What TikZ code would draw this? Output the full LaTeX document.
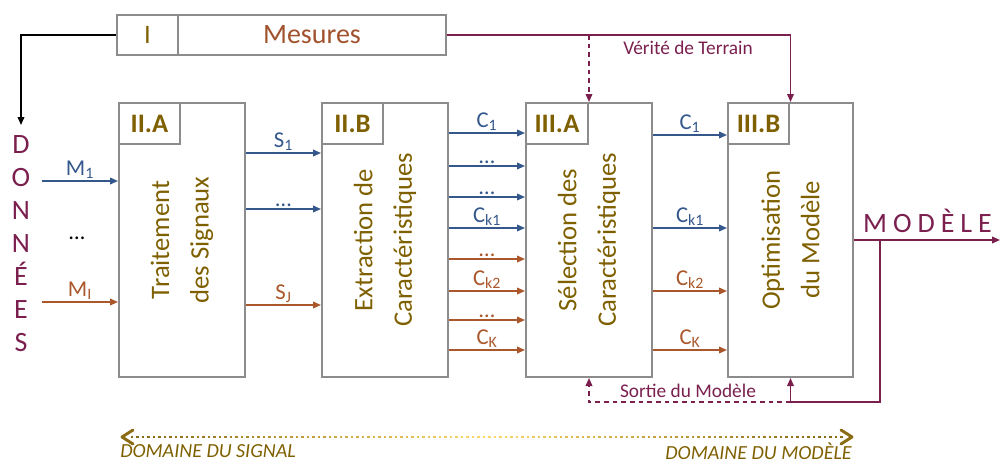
\documentclass[tikz,border=0pt]{standalone}
\usepackage{fontspec}
\setmainfont{Carlito}
\usetikzlibrary{arrows.meta,fit,calc}
\definecolor{gold}{HTML}{7F6000}
\definecolor{mes}{HTML}{A0522D}
\definecolor{blu}{HTML}{35588C}
\definecolor{brn}{HTML}{A9572B}
\definecolor{mar}{HTML}{7A1F4E}
\definecolor{gry}{HTML}{8C8C8C}
\definecolor{gdk}{HTML}{8B6B14}
\definecolor{gyl}{HTML}{FFD966}
\begin{document}
\begin{tikzpicture}[x=0.75pt,y=-0.75pt,
  box/.style={draw=gry,line width=1.5pt,inner sep=0pt},
  boxtxt/.style={rotate=90,align=center,text=gold,inner sep=0pt,font=\fontsize{20}{29.5}\selectfont},
  lbltxt/.style={text=gold,inner sep=0pt,font=\fontsize{20}{24}\selectfont\bfseries},
  arr/.style={line width=1.1pt,-{Triangle[length=6pt,width=5pt]}},
  blarr/.style={arr,draw=blu},
  brarr/.style={arr,draw=brn},
  marr/.style={arr,draw=mar},
  blkarr/.style={arr,draw=black},
  dsh/.style={dash pattern=on 3.5pt off 3pt},
  lab/.style={font=\fontsize{17}{19}\selectfont,inner sep=1.2pt,above},
  blab/.style={lab,text=blu},
  rlab/.style={lab,text=brn},
  martxt/.style={text=mar,font=\fontsize{14.5}{17}\selectfont,inner sep=0pt},
  bigmar/.style={text=mar,font=\fontsize{21}{24}\selectfont,inner sep=0pt,anchor=base},
  dom/.style={text=gold,font=\fontsize{15}{17}\selectfont\itshape,inner sep=0pt}
]
\useasboundingbox (0,0) rectangle (1001,464);

% top bar
\node[box,fit={(117,15)(178,55)}] (barI) {};
\node[box,fit={(178,15)(446,55)}] (barM) {};
\node[text=gold,inner sep=0pt,font=\fontsize{20}{24}\selectfont] (tI) at (barI.center) {I};
\node[text=mes,inner sep=0pt,font=\fontsize{21}{24}\selectfont] (tM) at (barM.center) {Mesures};

% main boxes
\node[box,fit={(119,103)(245,377)}] (b2a) {};
\node[box,fit={(322,103)(448,377)}] (b2b) {};
\node[box,fit={(526,103)(652,377)}] (b3a) {};
\node[box,fit={(728,103)(853,377)}] (b3b) {};
\node[box,fit={(119,103)(180,144)}] (l2a) {};
\node[box,fit={(322,103)(383,144)}] (l2b) {};
\node[box,fit={(526,103)(588,144)}] (l3a) {};
\node[box,fit={(728,103)(789,144)}] (l3b) {};
\node[lbltxt] (tl2a) at (l2a.center) {II.A};
\node[lbltxt] (tl2b) at (l2b.center) {II.B};
\node[lbltxt] (tl3a) at (l3a.center) {III.A};
\node[lbltxt] (tl3b) at (l3b.center) {III.B};
\node[boxtxt] (t2a) at (b2a.center) {Traitement\\des Signaux};
\node[boxtxt] (t2b) at (b2b.center) {Extraction de\\Caractéristiques};
\node[boxtxt] (t3a) at (b3a.center) {Sélection des\\Caractéristiques};
\node[boxtxt] (t3b) at (b3b.center) {Optimisation\\du Modèle};

% DONNEES
\foreach \l [count=\i] in {D,O,N,N,É,E,S}
  \node[bigmar] (d\i) at (21,{153+33*(\i-1)}) {\l};
\coordinate (dtop) at (21,125);
\draw[blkarr] (barI.west) -| (dtop);

% inputs
\coordinate (m1) at (42,181);
\coordinate (mi) at (42,302);
\draw[blarr] (m1) -- node[blab] {M\textsubscript{1}} (b2a.west |- m1);
\draw[brarr] (mi) -- node[rlab] {M\textsubscript{I}} (b2a.west |- mi);
\node[font=\fontsize{17}{19}\selectfont,inner sep=0pt] (mdots) at (77,238) {…};

% S arrows
\draw[blarr] (b2a.east |- 0,153) -- node[blab] {S\textsubscript{1}} (b2b.west |- 0,153);
\draw[blarr] (b2a.east |- 0,209) -- node[blab] {…} (b2b.west |- 0,209);
\draw[brarr] (b2a.east |- 0,305) -- node[rlab] {S\textsubscript{J}} (b2b.west |- 0,305);

% C arrows II.B -> III.A
\draw[blarr] (b2b.east |- 0,133) -- node[blab] {C\textsubscript{1}} (b3a.west |- 0,133);
\draw[blarr] (b2b.east |- 0,166) -- node[blab] {…} (b3a.west |- 0,166);
\draw[blarr] (b2b.east |- 0,197) -- node[blab] {…} (b3a.west |- 0,197);
\draw[blarr] (b2b.east |- 0,228) -- node[blab] {C\textsubscript{k1}} (b3a.west |- 0,228);
\draw[brarr] (b2b.east |- 0,259) -- node[rlab] {…} (b3a.west |- 0,259);
\draw[brarr] (b2b.east |- 0,291) -- node[rlab] {C\textsubscript{k2}} (b3a.west |- 0,291);
\draw[brarr] (b2b.east |- 0,320) -- node[rlab] {…} (b3a.west |- 0,320);
\draw[brarr] (b2b.east |- 0,350) -- node[rlab] {C\textsubscript{K}} (b3a.west |- 0,350);

% C arrows III.A -> III.B
\draw[blarr] (b3a.east |- 0,135) -- node[blab] {C\textsubscript{1}} (b3b.west |- 0,135);
\draw[blarr] (b3a.east |- 0,228) -- node[blab] {C\textsubscript{k1}} (b3b.west |- 0,228);
\draw[brarr] (b3a.east |- 0,291) -- node[rlab] {C\textsubscript{k2}} (b3b.west |- 0,291);
\draw[brarr] (b3a.east |- 0,350) -- node[rlab] {C\textsubscript{K}} (b3b.west |- 0,350);

% ground truth
\draw[marr] (barM.east) -| (b3b.north);
\draw[marr,dsh] (barM.east -| b3a.north) -- (b3a.north);
\node[martxt] (vt) at (688,48) {Vérité de Terrain};

% output
\coordinate (outend) at (1000,240);
\coordinate (fb) at (880,240);
\draw[marr] (b3b.east |- outend) -- (outend);
\node[bigmar] (modtxt) at (927.5,232) {M\kern4.5pt O\kern4.5pt D\kern4.5pt È\kern4.5pt L\kern4.5pt E};
\draw[marr] (fb) |- (b3b.south |- 0,402) -- (b3b.south);
\draw[marr,dsh] (b3b.south |- 0,402) -| (b3a.south);
\node[martxt] (sm) at (688,391) {Sortie du Modèle};

% domain arrow
\foreach \xx in {132,137.5,...,844} {
  \pgfmathtruncatemacro\pp{min(100,abs(\xx-486)/330*100)}
  \fill[gdk!\pp!gyl] (\xx-1.4,435.6) rectangle (\xx+1.4,438.4);
}
\coordinate (dl) at (122,437);
\coordinate (dr) at (852,437);
\draw[gdk,line width=2.2pt,line cap=round,line join=round] ($(dl)+(11,-7)$) -- (dl) -- ($(dl)+(11,7)$);
\draw[gdk,line width=2.2pt,line cap=round,line join=round] ($(dr)+(-11,-7)$) -- (dr) -- ($(dr)+(-11,7)$);
\node[dom,anchor=west] (ds) at (120,451.5) {DOMAINE DU SIGNAL};
\node[dom,anchor=east] (dm) at (852,451.5) {DOMAINE DU MODÈLE};
\end{tikzpicture}
\end{document}
